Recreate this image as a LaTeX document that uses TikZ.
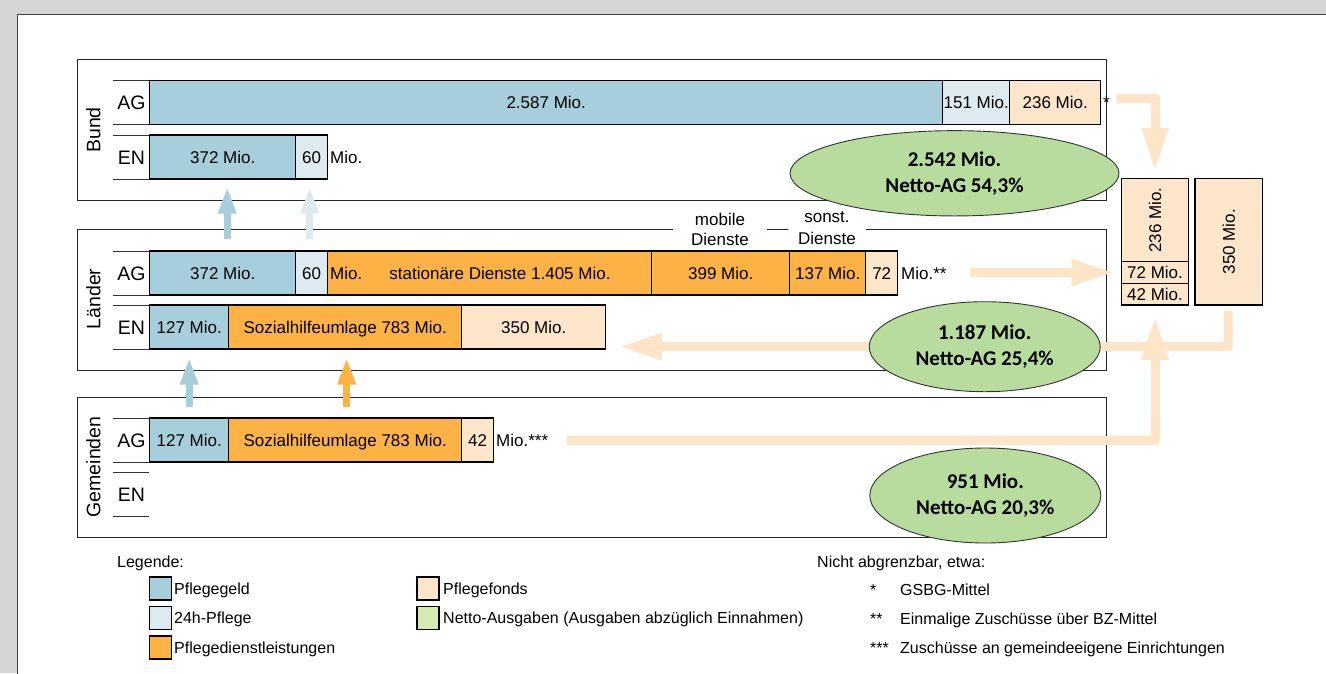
\documentclass[tikz,border=0pt]{standalone}
\usepackage{fontspec}
\setmainfont{Liberation Sans}
\newfontfamily\calfont{Carlito}
\usetikzlibrary{arrows.meta,shapes.geometric}
\definecolor{pgeld}{RGB}{167,207,219}
\definecolor{pvier}{RGB}{221,235,240}
\definecolor{pdienst}{RGB}{252,178,68}
\definecolor{pfonds}{RGB}{254,230,202}
\definecolor{parrow}{RGB}{254,229,200}
\definecolor{nettog}{RGB}{184,219,158}
\definecolor{nettol}{RGB}{214,234,178}
\definecolor{bggray}{RGB}{212,213,215}
\newcommand\mybarf{\fontsize{17}{20}\selectfont}
\newcommand\mylabf{\fontsize{19.5}{22}\selectfont}
\newcommand\myellf{\calfont\bfseries\fontsize{21}{26}\selectfont}
\newcommand\mylegf{\fontsize{16}{19}\selectfont}
\begin{document}
\begin{tikzpicture}[x=1pt,y=-1pt,
  seg/.style={draw=black, line width=1.4pt, minimum height=44pt, inner sep=0pt,
    anchor=west, font=\mybarf, text height=12.2pt, text depth=0pt},
  panel/.style={draw=black!85, line width=0.9pt},
  rowline/.style={draw=black!80, line width=0.9pt},
  rowlab/.style={font=\mylabf, inner sep=0pt, text height=14pt, text depth=0pt},
  sidelab/.style={font=\mylabf, rotate=90, inner sep=0pt},
  freetext/.style={font=\mybarf, inner sep=0pt, text height=12.2pt, text depth=0pt},
  peach/.style={draw=parrow, line width=9pt, -{Triangle[width=25pt,length=43pt]}, line join=round},
  bluearr/.style={line width=7pt, -{Triangle[width=17pt,length=27pt]}},
  netto/.style={ellipse, draw=black!80, line width=0.9pt, fill=nettog, font=\myellf, align=center, inner sep=0pt},
  fbox/.style={draw=black, line width=1.4pt, fill=pfonds, inner sep=0pt, font=\mybarf},
  legbox/.style={draw=black, line width=1.4pt, minimum width=22pt, minimum height=23pt, inner sep=0pt},
  legtext/.style={font=\mylegf, anchor=base west, inner sep=0pt},
]
\useasboundingbox (0,0) rectangle (1326,673);
\fill[bggray] (0,0) rectangle (1326,673);
\filldraw[fill=white, draw=black!75, line width=1.3pt] (17.3,700) -- (17.3,14.3) -- (1340,14.3) -- (1340,700) -- cycle;

% panels
\draw[panel] (77.3,59.3) rectangle (1106.7,200);
\draw[panel] (77.3,229.3) rectangle (1106.7,370);
\draw[panel] (77.3,397) rectangle (1106.7,537);

% row lines
\foreach \yy in {80.7,124,135,179,251,295,305,349,418,462,472,516}
  \draw[rowline] (112.7,\yy) -- (149,\yy);

% row labels
\node[rowlab] (lab1) at (131.5,102.3) {AG};
\node[rowlab] (lab2) at (131.5,157) {EN};
\node[rowlab] (lab3) at (131.5,273) {AG};
\node[rowlab] (lab4) at (131.5,327) {EN};
\node[rowlab] (lab5) at (131.5,440) {AG};
\node[rowlab] (lab6) at (131.5,494) {EN};
\node[sidelab] (sb) at (93.5,130) {Bund};
\node[sidelab] (sl) at (93.5,299) {Länder};
\node[sidelab] (sg) at (93.5,467) {Gemeinden};

% Bund AG
\node[seg, fill=pgeld, minimum width=793pt] (bag1) at (149,102.3) {2.587 Mio.};
\node[seg, fill=pvier, minimum width=67pt] (bag2) at (942,102.3) {151 Mio.};
\node[seg, fill=pfonds, minimum width=91pt] (bag3) at (1009,102.3) {236 Mio.};
\node[freetext, anchor=west] (star1) at (1103,102.3) {*};
% Bund EN
\node[seg, fill=pgeld, minimum width=146pt] (ben1) at (149,157) {372 Mio.};
\node[seg, fill=pvier, minimum width=32pt] (ben2) at (295,157) {60};
\node[freetext, anchor=west] (benm) at (330,157) {Mio.};

% Laender AG
\node[seg, fill=pgeld, minimum width=146pt] (lag1) at (149,273) {372 Mio.};
\node[seg, fill=pvier, minimum width=32pt] (lag2) at (295,273) {60};
\node[seg, fill=pdienst, minimum width=324pt] (lag3) at (327,273) {};
\node[freetext, anchor=west] (lagm) at (330,273) {Mio.};
\node[freetext] (lags) at (500,273) {stationäre Dienste 1.405 Mio.};
\node[seg, fill=pdienst, minimum width=138pt] (lag4) at (651,273) {399 Mio.};
\node[seg, fill=pdienst, minimum width=76pt] (lag5) at (789,273) {137 Mio.};
\node[seg, fill=pfonds, minimum width=32pt] (lag6) at (865,273) {72};
\node[freetext, anchor=west] (lagm2) at (901,273) {Mio.**};
\node[fill=white, font=\mybarf, align=center, minimum width=94pt, inner ysep=1pt] (mob) at (720,229) {mobile\\Dienste};
\node[fill=white, font=\mybarf, align=center, minimum width=78pt, inner ysep=1pt] (son) at (827,228) {sonst.\\[2pt]Dienste};

% Laender EN
\node[seg, fill=pgeld, minimum width=79pt] (len1) at (149,327) {127 Mio.};
\node[seg, fill=pdienst, minimum width=233pt] (len2) at (228,327) {Sozialhilfeumlage 783 Mio.};
\node[seg, fill=pfonds, minimum width=144pt] (len3) at (461,327) {350 Mio.};

% Gemeinden AG
\node[seg, fill=pgeld, minimum width=79pt] (gag1) at (149,440) {127 Mio.};
\node[seg, fill=pdienst, minimum width=233pt] (gag2) at (228,440) {Sozialhilfeumlage 783 Mio.};
\node[seg, fill=pfonds, minimum width=32pt] (gag3) at (461,440) {42};
\node[freetext, anchor=west] (gagm) at (496,440) {Mio.***};

% vertical transfer arrows
\draw[bluearr, draw=pgeld, shorten <=11pt, shorten >=7pt] ([xshift=4.5pt]lag1.north) -- ([xshift=4.5pt]ben1.south);
\draw[bluearr, draw=pvier, shorten <=11pt, shorten >=7pt] ([xshift=-2pt]lag2.north) -- ([xshift=-2pt]ben2.south);
\draw[bluearr, draw=pgeld, shorten <=10pt, shorten >=8pt] (gag1.north) -- (len1.south);
\draw[bluearr, draw=pdienst, shorten <=10pt, shorten >=8pt] ([xshift=1.5pt]gag2.north) -- ([xshift=1.5pt]len2.south);

% Pflegefonds boxes
\node[fbox, rotate=90, minimum width=83.4pt, minimum height=66.6pt] (f236) at (1155,220) {236 Mio.};
\node[fbox, minimum width=66.6pt, minimum height=21.6pt] (f72) at (1155,272.5) {72 Mio.};
\node[fbox, minimum width=66.6pt, minimum height=21.7pt] (f42) at (1155,294.2) {42 Mio.};
\node[fbox, rotate=90, minimum width=126.7pt, minimum height=67.7pt] (f350) at (1228.8,241.7) {350 Mio.};

% peach arrows
\coordinate (aS) at (1116.7,98.5);
\coordinate (bS) at (970,272.5);
\coordinate (cE) at (619,346.7);
\coordinate (dS) at (566.7,440.5);
\draw[peach, shorten >=6.6pt] (aS) -| (f236.east);
\draw[peach, shorten >=6.7pt] (bS) -- (f72.west);
\draw[peach, shorten <=5pt] (f350.west) |- (cE);
\draw[peach, shorten >=11pt] (dS) -| (f42.south);

% ellipses
\node[netto, minimum width=329pt, minimum height=85.3pt] (eb) at (954.5,173.3) {2.542 Mio.\\Netto-AG 54,3\%};
\node[netto, minimum width=231pt, minimum height=90pt] (el) at (984.7,346.7) {1.187 Mio.\\Netto-AG 25,4\%};
\node[netto, minimum width=231pt, minimum height=95pt] (eg) at (985.3,495.5) {951 Mio.\\Netto-AG 20,3\%};

% legend
\node[legtext] (lg) at (117,567) {Legende:};
\node[legbox, fill=pgeld] (k1) at (160.3,588.3) {};
\node[legbox, fill=pvier] (k2) at (160.3,618) {};
\node[legbox, fill=pdienst] (k3) at (160.3,647.5) {};
\node[legtext] (t1) at (174,594.1) {Pflegegeld};
\node[legtext] (t2) at (174,623.8) {24h-Pflege};
\node[legtext] (t3) at (174,653.3) {Pflegedienstleistungen};
\node[legbox, fill=pfonds] (k4) at (428,588.3) {};
\node[legbox, fill=nettol] (k5) at (428,618) {};
\node[legtext] (t4) at (443,594.1) {Pflegefonds};
\node[legtext] (t5) at (443,623.8) {Netto-Ausgaben (Ausgaben abzüglich Einnahmen)};
\node[legtext] (n0) at (817,567) {Nicht abgrenzbar, etwa:};
\node[legtext] (s1) at (870,595.8) {*};
\node[legtext] (s2) at (870,624.8) {**};
\node[legtext] (s3) at (870,653.8) {***};
\node[legtext] (n1) at (900,595.8) {GSBG-Mittel};
\node[legtext] (n2) at (900,624.8) {Einmalige Zuschüsse über BZ-Mittel};
\node[legtext] (n3) at (900,653.8) {Zuschüsse an gemeindeeigene Einrichtungen};
\end{tikzpicture}
\end{document}
